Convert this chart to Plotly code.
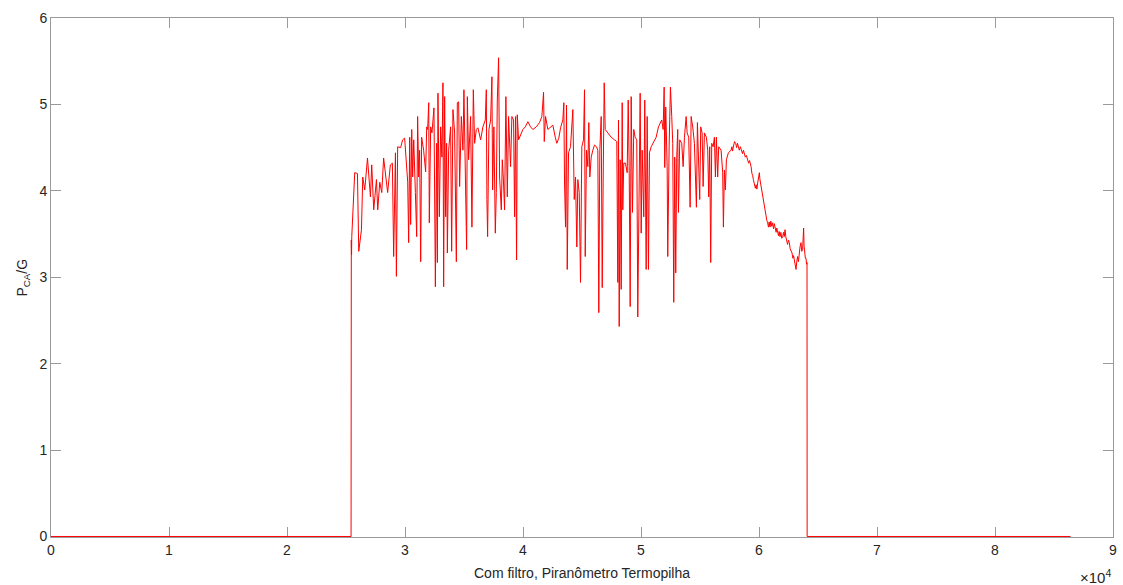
import plotly.graph_objects as go

# Ratio P_CA / G over one day (time in seconds), filtered, thermopile pyranometer.
night_before = [(0, 0.0), (25430, 0.0)]

morning = [
    (25450, 3.43), (25470, 3.26), (25490, 3.47), (25740, 4.21), (25970, 4.20),
    (26080, 3.30), (26310, 3.55), (26420, 4.16), (26590, 4.01), (26820, 4.38),
    (26930, 4.13), (27070, 3.93), (27180, 4.30), (27350, 3.78), (27580, 4.13),
    (27690, 3.78), (27860, 4.10), (28030, 3.98), (28190, 4.38), (28420, 4.09),
    (28530, 3.98), (28760, 4.30), (28930, 4.32), (29040, 3.24), (29190, 4.44),
    (29270, 3.01), (29380, 4.51), (29630, 4.50), (29800, 4.59), (29970, 4.61),
    (30120, 4.36), (30230, 4.10), (30310, 3.40), (30400, 4.62), (30480, 3.61),
    (30570, 4.71), (30650, 4.16), (30740, 4.59), (30880, 3.98), (30990, 3.47),
    (31070, 4.86), (31160, 4.16), (31240, 4.47), (31330, 3.18), (31410, 4.62),
    (31580, 4.47), (31750, 4.22), (31840, 4.74), (31920, 4.71), (32010, 5.02),
    (32060, 3.63),
]

late_morning = [
    (32175, 4.74), (32285, 4.67), (32454, 4.96), (32573, 2.89), (32683, 4.55),
    (32742, 3.17), (32793, 5.13), (32911, 3.70), (33021, 4.74), (33131, 4.39),
    (33216, 5.25), (33275, 2.89), (33360, 5.09), (33445, 3.70), (33529, 4.55),
    (33589, 3.28), (33699, 4.47), (33868, 4.74), (33953, 3.30), (34063, 4.94),
    (34207, 4.67), (34351, 3.18), (34435, 5.02), (34545, 5.03), (34630, 4.05),
    (34774, 4.86), (34910, 4.47), (34994, 5.17), (35113, 3.98), (35223, 3.32),
    (35282, 5.09), (35392, 4.36), (35561, 4.86), (35672, 3.58), (35790, 5.17),
    (35900, 4.55), (36044, 4.71), (36180, 4.73), (36408, 4.59), (36603, 4.74),
    (36806, 4.82), (36891, 5.17), (36942, 3.90), (37001, 3.47), (37111, 4.71),
    (37255, 4.82), (37365, 5.32), (37424, 4.01), (37534, 4.74), (37653, 3.51),
    (37737, 3.98), (37822, 5.05), (37932, 5.54), (38017, 4.16), (38161, 3.78),
    (38245, 4.36), (38330, 4.16), (38440, 3.78), (38550, 5.09), (38669, 3.93),
    (38779, 4.86),
]

midday = [
    (38948, 4.28), (39058, 4.86), (39202, 4.82), (39287, 3.70), (39372, 4.86),
    (39456, 3.20), (39516, 4.88), (39626, 4.59), (39795, 4.65), (39990, 4.71),
    (40193, 4.74), (40413, 4.80), (40642, 4.74), (40836, 4.71), (41124, 4.74),
    (41404, 4.79), (41598, 4.86), (41742, 5.14), (41801, 4.57), (41912, 4.86),
    (42106, 4.71), (42335, 4.74), (42530, 4.76), (42733, 4.62), (42868, 4.55),
    (43038, 4.61), (43182, 4.73), (43376, 4.82), (43461, 5.02), (43520, 4.09),
    (43605, 3.58), (43690, 4.99), (43749, 3.09), (43859, 4.44), (44028, 4.51),
    (44223, 4.94), (44342, 3.90), (44452, 4.16), (44562, 3.35), (44647, 4.13),
    (44765, 3.98), (44875, 2.94), (44985, 4.51), (45129, 4.59), (45214, 5.17),
    (45273, 3.24), (45383, 4.47), (45493, 4.28), (45578, 4.79),
]

early_afternoon = [
    (45663, 4.16), (45781, 4.39), (45917, 4.47), (46061, 4.53), (46230, 4.51),
    (46341, 4.47), (46425, 2.59), (46510, 4.47), (46628, 4.86), (46713, 2.88),
    (46797, 4.16), (46882, 5.25), (46967, 4.71), (47187, 4.67), (47475, 4.62),
    (47754, 4.59), (47948, 4.57), (48033, 2.94), (48093, 4.82), (48152, 2.43),
    (48237, 4.36), (48321, 2.86), (48406, 5.02), (48457, 3.78), (48541, 4.32),
    (48685, 4.32), (48829, 4.21), (48914, 5.05), (48998, 4.28), (49083, 2.66),
    (49168, 5.09), (49278, 3.75), (49388, 4.71), (49506, 4.62), (49642, 4.59),
    (49727, 2.54), (49871, 4.01), (49930, 5.13), (50015, 3.51), (50099, 4.47),
    (50235, 3.70), (50319, 5.05), (50438, 3.09), (50523, 4.86), (50633, 3.09),
    (50717, 4.44), (50861, 4.51), (50997, 4.55), (51141, 4.59), (51285, 4.62),
    (51479, 4.74), (51649, 4.79), (51759, 4.82), (51877, 4.71), (51962, 5.20),
    (52013, 4.27), (52097, 4.97), (52216, 4.28), (52267, 3.24), (52385, 4.51),
]

afternoon = [
    (52495, 5.20), (52605, 4.86), (52690, 4.55), (52775, 2.71), (52859, 4.39),
    (52944, 3.05), (53029, 4.39), (53113, 4.71), (53173, 3.75), (53283, 4.59),
    (53452, 4.55), (53571, 4.28), (53681, 4.62), (53825, 4.86), (53910, 4.67),
    (54045, 4.62), (54164, 3.81), (54248, 4.86), (54384, 4.74), (54527, 4.55),
    (54612, 4.24), (54697, 3.81), (54781, 4.79), (54891, 4.39), (54976, 3.90),
    (55061, 4.74), (55179, 4.67), (55264, 4.05), (55374, 4.67), (55543, 4.62),
    (55654, 4.47), (55738, 3.93), (55823, 4.51), (55908, 3.17), (55992, 4.55),
    (56111, 4.51), (56221, 4.62), (56306, 4.16), (56390, 4.62), (56500, 4.16),
    (56585, 4.51), (56788, 4.47), (56924, 4.21), (56983, 3.58), (57068, 4.24),
    (57152, 4.01), (57237, 4.36), (57406, 4.44),
]

late_afternoon = [
    (57635, 4.47), (57700, 4.51), (57760, 4.46), (57855, 4.53), (57930, 4.57),
    (58024, 4.55), (58100, 4.50), (58180, 4.55), (58254, 4.51), (58330, 4.47),
    (58420, 4.51), (58533, 4.47), (58600, 4.43), (58680, 4.47), (58761, 4.42),
    (58840, 4.39), (58930, 4.41), (59041, 4.36), (59120, 4.32), (59200, 4.35),
    (59328, 4.28), (59400, 4.20), (59460, 4.18), (59523, 4.13), (59600, 4.06),
    (59640, 4.08), (59692, 4.03), (59760, 4.07), (59820, 4.02), (59887, 4.09),
    (59950, 4.15), (60031, 4.21), (60070, 4.14), (60116, 4.10), (60190, 4.04),
    (60260, 3.98), (60310, 3.94), (60370, 3.90), (60450, 3.84), (60500, 3.80),
    (60539, 3.78), (60600, 3.70), (60660, 3.66), (60735, 3.63), (60800, 3.58),
    (60860, 3.64), (60937, 3.58), (61000, 3.65), (61080, 3.59), (61157, 3.63),
    (61230, 3.56), (61300, 3.62), (61386, 3.58), (61450, 3.52), (61510, 3.57),
    (61580, 3.53), (61650, 3.48), (61710, 3.53), (61784, 3.47), (61850, 3.52),
    (61930, 3.45), (62004, 3.47), (62080, 3.52), (62140, 3.47), (62207, 3.55),
    (62270, 3.47), (62343, 3.43), (62420, 3.38), (62500, 3.43), (62571, 3.40),
    (62640, 3.33), (62720, 3.30), (62800, 3.28), (62870, 3.22), (62930, 3.25),
    (62994, 3.20), (63060, 3.14), (63138, 3.09), (63200, 3.18), (63274, 3.24),
    (63340, 3.18), (63410, 3.30), (63477, 3.35), (63562, 3.40), (63620, 3.30),
    (63697, 3.32), (63782, 3.57), (63820, 3.36), (63867, 3.28), (63930, 3.22),
    (63986, 3.22), (64030, 3.15), (64070, 3.17),
]

night_after = [(64080, 0.0), (86400, 0.0)]

series = (night_before + morning + late_morning + midday
          + early_afternoon + afternoon + late_afternoon + night_after)
time_s = [p[0] for p in series]
ratio = [p[1] for p in series]

x_ticks = list(range(0, 90001, 10000))
x_tick_text = [str(v // 10000) for v in x_ticks]
y_ticks = [0, 1, 2, 3, 4, 5, 6]

axis_grey = "#9a9a9a"
text_grey = "#262626"
font_family = "Liberation Sans, Arial, sans-serif"

fig = go.Figure()
fig.add_trace(go.Scatter(
    x=time_s, y=ratio, mode="lines",
    line=dict(color="#ff0000", width=1),
    hoverinfo="x+y", showlegend=False,
))

axis_common = dict(
    showgrid=False, zeroline=False,
    showline=True, linecolor=axis_grey, linewidth=1, mirror="ticks",
    ticks="inside", ticklen=10, tickwidth=1, tickcolor=axis_grey,
    tickfont=dict(family=font_family, size=14, color=text_grey),
    layer="below traces",
)

fig.update_xaxes(range=[0, 90000], tickvals=x_ticks, ticktext=x_tick_text,
                 **axis_common)
fig.update_yaxes(range=[-0.006, 6], tickvals=y_ticks,
                 ticktext=[str(v) for v in y_ticks], **axis_common)

fig.update_layout(
    width=1123, height=585,
    margin=dict(l=51, r=6, t=18, b=48),
    paper_bgcolor="white", plot_bgcolor="white",
    font=dict(family=font_family, color=text_grey),
    annotations=[
        dict(text="Com filtro, Piranômetro Termopilha",
             xref="paper", yref="paper", x=0.5, y=-0.069,
             xanchor="center", yanchor="middle", showarrow=False,
             font=dict(family=font_family, size=14, color=text_grey)),
        dict(text="P<sub>CA</sub>/G",
             xref="paper", yref="paper", x=-0.0272, y=0.5,
             xanchor="center", yanchor="middle", textangle=-90,
             showarrow=False,
             font=dict(family=font_family, size=14, color=text_grey)),
        dict(text="×10<sup>4</sup>",
             xref="paper", yref="paper", x=1.0, y=-0.054,
             xanchor="right", yanchor="top", showarrow=False,
             font=dict(family=font_family, size=15, color=text_grey)),
    ],
)

fig.write_html("out.html")
